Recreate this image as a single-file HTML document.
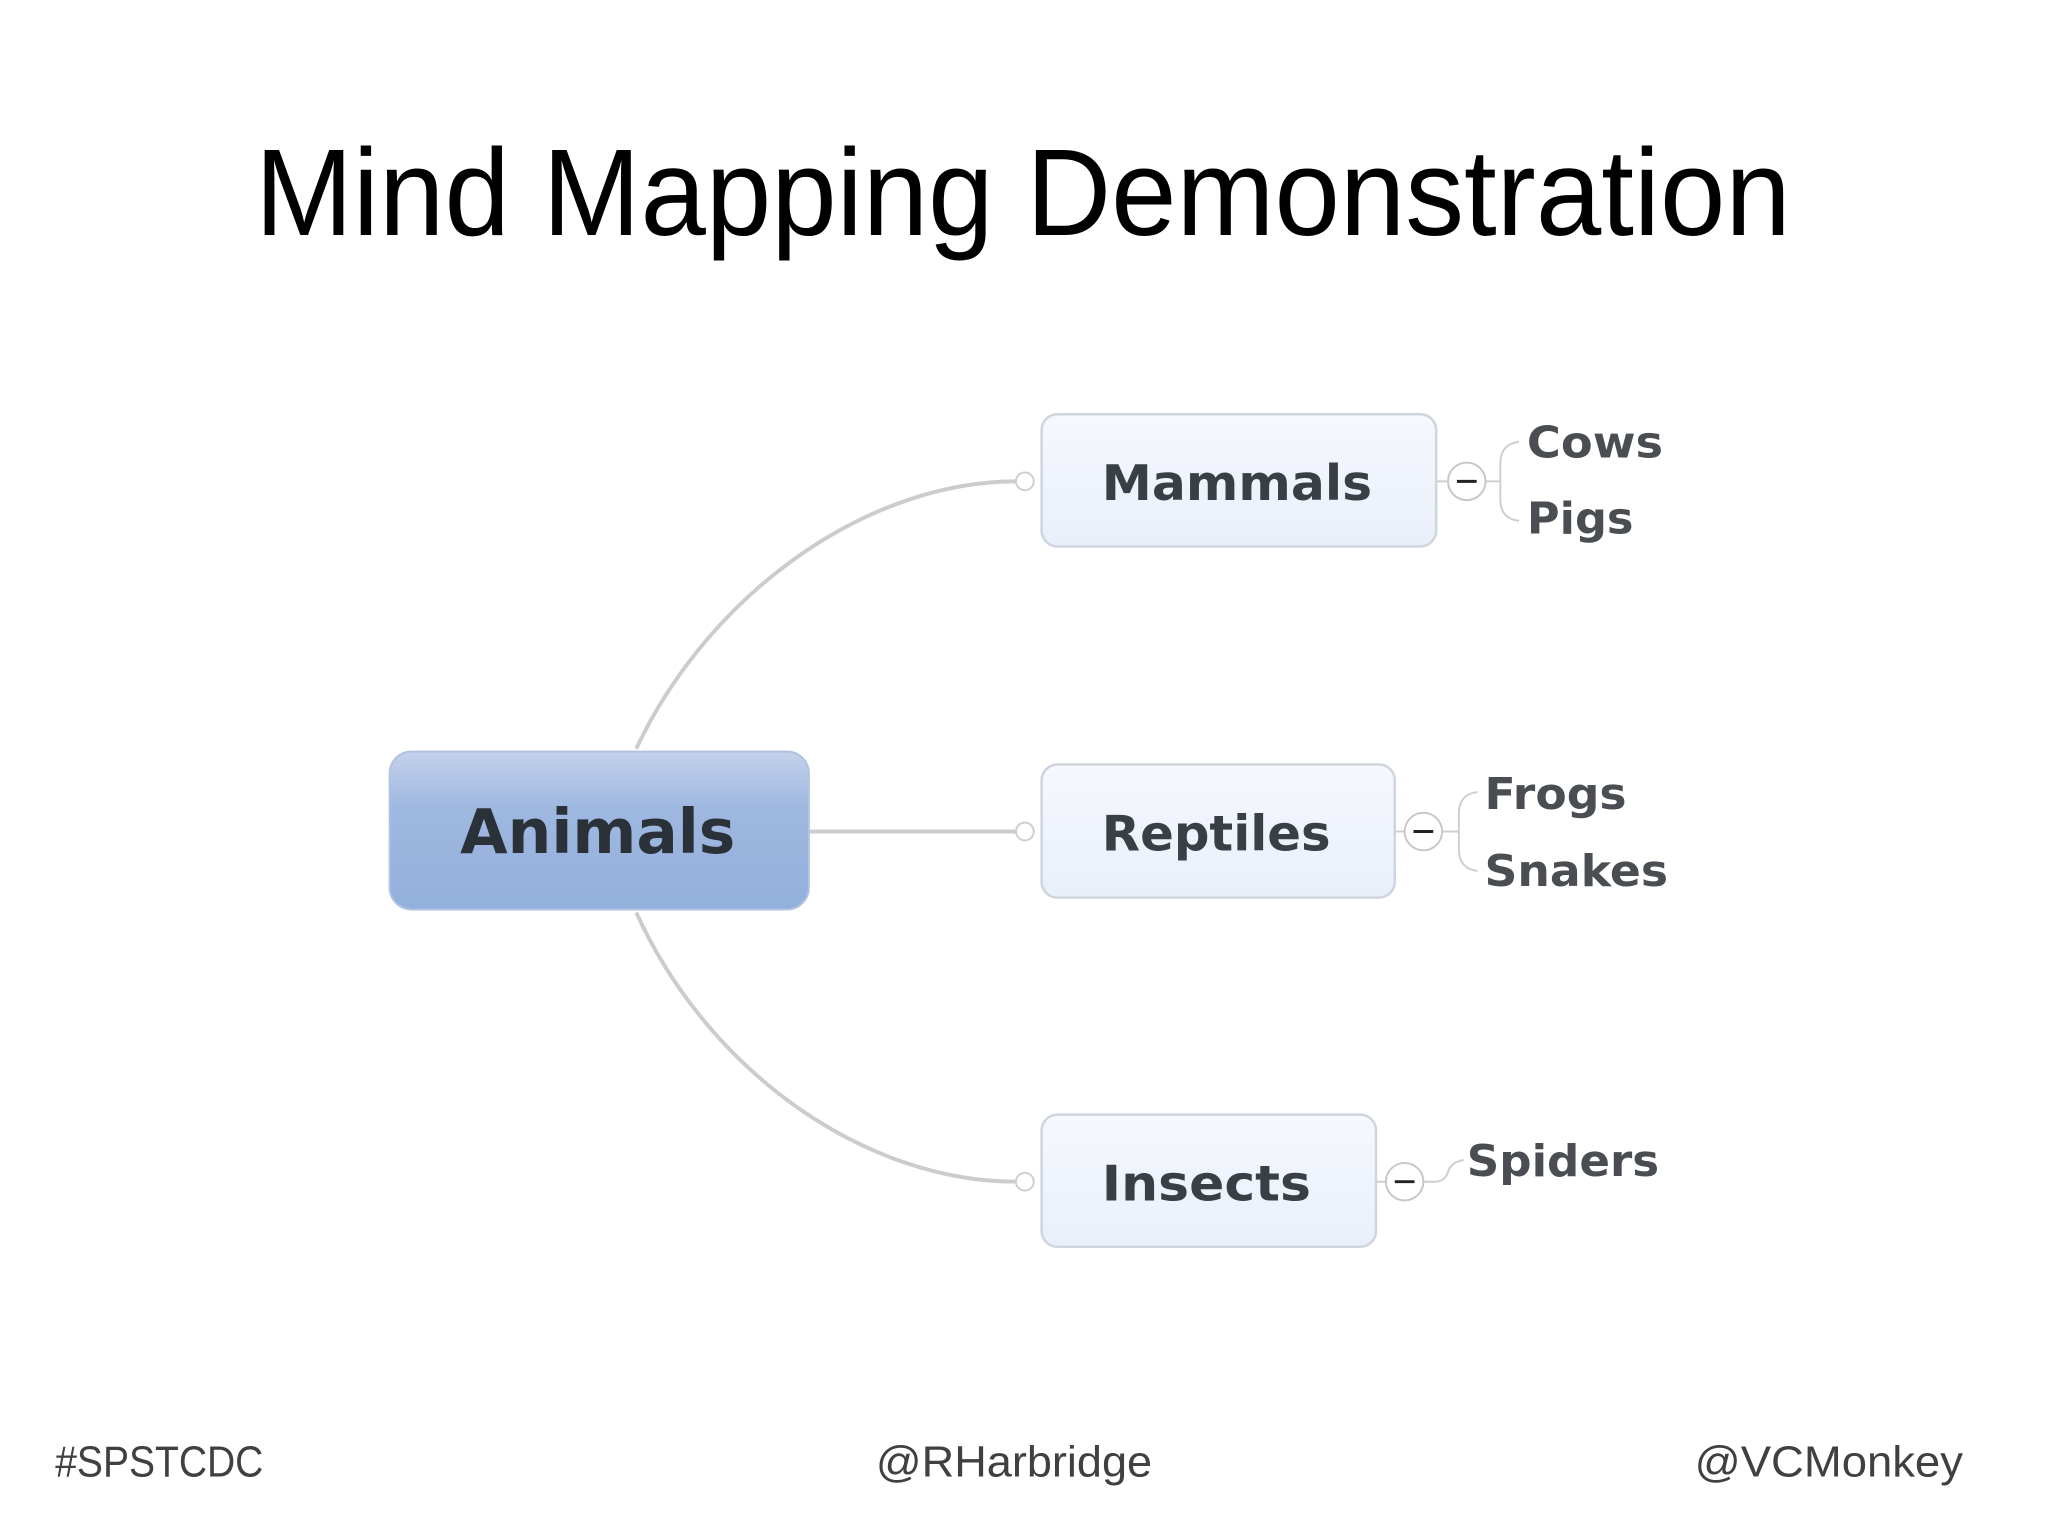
<!DOCTYPE html>
<html><head><meta charset="utf-8"><style>
html,body{margin:0;padding:0;background:#fff;width:2048px;height:1536px;overflow:hidden}
svg{display:block}
</style></head><body>
<svg width="2048" height="1536" viewBox="0 0 2048 1536" xmlns="http://www.w3.org/2000/svg">
<defs>
<linearGradient id="ga" x1="0" y1="0" x2="0" y2="1">
<stop offset="0" stop-color="#c3d2ec"/><stop offset="0.35" stop-color="#9fb8e0"/><stop offset="1" stop-color="#93afdc"/>
</linearGradient>
<linearGradient id="gb" x1="0" y1="0" x2="0" y2="1">
<stop offset="0" stop-color="#f6f8fd"/><stop offset="1" stop-color="#e9effa"/>
</linearGradient>
</defs>
<g transform="scale(0.9864)">
<text x="1037" y="238" font-family="Liberation Sans, sans-serif" font-size="125" text-anchor="middle" textLength="1557" lengthAdjust="spacingAndGlyphs" fill="#000">Mind Mapping Demonstration</text>

<g fill="none" stroke="#cccccc" stroke-width="4">
<path d="M645 759 C 720 600, 880 488, 1030 488"/>
<path d="M645 925 C 720 1090, 880 1198, 1030 1198"/>
<path d="M821 843 L1030 843"/>
</g>
<g fill="#fff" stroke="#cfcfcf" stroke-width="2">
<circle cx="1039" cy="488" r="9"/><circle cx="1039" cy="843" r="9"/><circle cx="1039" cy="1198" r="9"/>
</g>

<rect x="395" y="762" width="425" height="160" rx="22" fill="url(#ga)" stroke="#b0c2e0" stroke-width="2"/>
<text x="606" y="865" font-family="DejaVu Sans, sans-serif" font-weight="bold" font-size="62" text-anchor="middle" textLength="279" lengthAdjust="spacingAndGlyphs" fill="#2b3138">Animals</text>

<g fill="url(#gb)" stroke="#cfd5de" stroke-width="2.5">
<rect x="1056" y="420" width="400" height="134" rx="16"/>
<rect x="1056" y="775" width="358" height="135" rx="16"/>
<rect x="1056" y="1130" width="339" height="134" rx="16"/>
</g>
<g font-family="DejaVu Sans, sans-serif" font-weight="bold" fill="#3a3f46" font-size="50">
<text x="1117" y="507" textLength="274" lengthAdjust="spacingAndGlyphs">Mammals</text>
<text x="1117" y="862" textLength="232" lengthAdjust="spacingAndGlyphs">Reptiles</text>
<text x="1117" y="1217" textLength="212" lengthAdjust="spacingAndGlyphs">Insects</text>
</g>

<g fill="none" stroke="#cfcfcf" stroke-width="2">
<path d="M1456 488 H1468 M1506 488 H1521"/>
<path d="M1540 448 Q1521 450 1521 470 V506 Q1521 526 1540 528"/>
<path d="M1414 843 H1424 M1462 843 H1479"/>
<path d="M1498 803 Q1479 805 1479 825 V861 Q1479 881 1498 883"/>
<path d="M1395 1198 H1405 M1443 1198 H1455 Q1465 1198 1468 1188 Q1471 1178 1484 1176"/>
</g>
<g fill="#fff" stroke="#c8c8c8" stroke-width="2">
<circle cx="1487" cy="488" r="19"/><circle cx="1443" cy="843" r="19"/><circle cx="1424" cy="1198" r="19"/>
</g>
<g stroke="#222" stroke-width="3">
<path d="M1477 488 H1497 M1433 843 H1453 M1414 1198 H1434"/>
</g>

<g font-family="DejaVu Sans, sans-serif" font-weight="bold" fill="#4a4d52" font-size="44">
<text x="1548" y="464" textLength="138" lengthAdjust="spacingAndGlyphs">Cows</text>
<text x="1548" y="541" textLength="108" lengthAdjust="spacingAndGlyphs">Pigs</text>
<text x="1505" y="820" textLength="144" lengthAdjust="spacingAndGlyphs">Frogs</text>
<text x="1505" y="898" textLength="186" lengthAdjust="spacingAndGlyphs">Snakes</text>
<text x="1487" y="1192" textLength="195" lengthAdjust="spacingAndGlyphs">Spiders</text>
</g>

<g font-family="Liberation Sans, sans-serif" font-size="44" fill="#404040">
<text x="56" y="1497" textLength="211" lengthAdjust="spacingAndGlyphs">#SPSTCDC</text>
<text x="1028" y="1497" text-anchor="middle" textLength="280" lengthAdjust="spacingAndGlyphs">@RHarbridge</text>
<text x="1990" y="1497" text-anchor="end" textLength="272" lengthAdjust="spacingAndGlyphs">@VCMonkey</text>
</g>
</g>
</svg>
</body></html>
